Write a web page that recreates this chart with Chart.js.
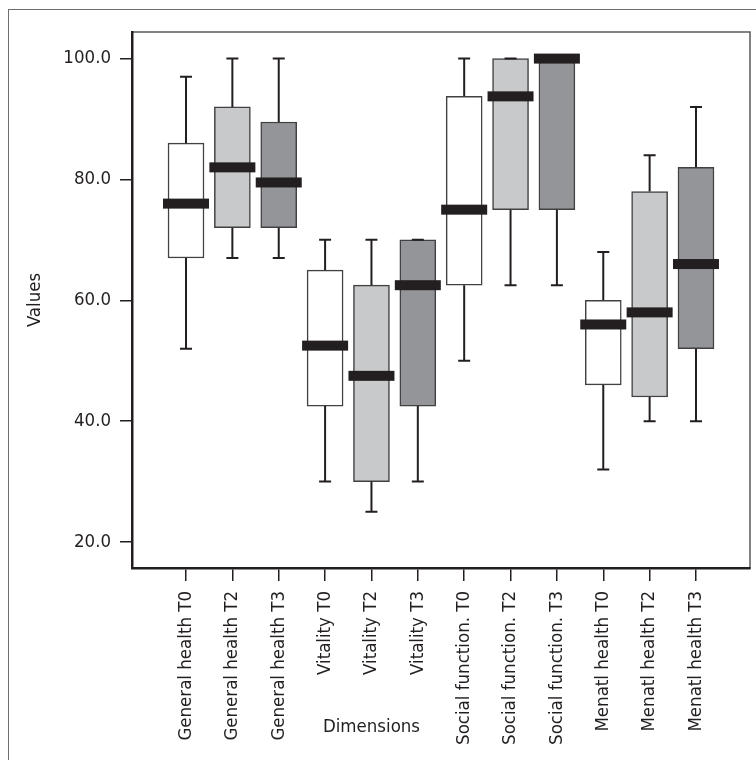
<!DOCTYPE html>
<html>
<head>
<meta charset="utf-8">
<title>Dimensions boxplot</title>
<script src="https://cdn.jsdelivr.net/npm/chart.js@4.4.1/dist/chart.umd.min.js"></script>
<style>
    html, body { margin: 0; padding: 0; background: #fff; overflow: hidden; }
    .wrap { position: relative; width: 756px; height: 760px; }
    .frame {
        position: absolute; left: 8px; top: 9px; width: 800px; height: 800px;
        border-left: 1.5px solid #6d6e70; border-top: 1.5px solid #6d6e70;
    }
    #chartBox { position: absolute; left: 0; top: 0; }
</style>
</head>
<body>
<div class="wrap">
    <div class="frame"></div>
    <canvas id="chartBox" width="756" height="760"></canvas>
</div>
<script>
// Dados
const categorias = [
    'General health T0', 'General health T2', 'General health T3',
    'Vitality T0', 'Vitality T2', 'Vitality T3',
    'Social function. T0', 'Social function. T2', 'Social function. T3',
    'Menatl health T0', 'Menatl health T2', 'Menatl health T3'
];
const minimos  = [52, 67, 67,   30, 25,   30,   50,    62.5, 62.5, 32, 40, 40];
const quartil1 = [67, 72, 72,   42.5, 30, 42.5, 62.5,  75,   75,   46, 44, 52];
const medianas = [76, 82, 79.5, 52.5, 47.5, 62.5, 75,  93.75, 100, 56, 58, 66];
const quartil3 = [86, 92, 89.5, 65, 62.5, 70,   93.75, 100,  100,  60, 78, 82];
const maximos  = [97, 100, 100, 70, 70,   70,   100,   100,  100,  68, 84, 92];
const yTicks = [20, 40, 60, 80, 100];

const corBranca = '#ffffff';
const corClara = '#c8c9cb';
const corEscura = '#939598';
const corTinta = '#231f20';
const coresCaixas = categorias.map((c, i) => [corBranca, corClara, corEscura][i % 3]);

const fonte = "'Liberation Sans Narrow', 'Arial Narrow', 'DejaVu Sans Condensed', sans-serif";
const tamFonte = 18.5;
Chart.defaults.color = corTinta;
Chart.defaults.font.family = fonte;

// Bigodes, medianas, moldura da área e título do eixo X
const boxExtras = {
    id: 'boxExtras',
    beforeDraw(chart) {
        const { ctx, chartArea: a } = chart;
        ctx.save();
        ctx.strokeStyle = '#58595b';
        ctx.lineWidth = 1.5;
        ctx.strokeRect(a.left, a.top, a.right - a.left, a.bottom - a.top);
        ctx.restore();
    },
    afterDatasetsDraw(chart) {
        const { ctx, scales: { x, y } } = chart;
        ctx.save();
        ctx.strokeStyle = corTinta;
        ctx.fillStyle = corTinta;
        ctx.lineWidth = 2;
        categorias.forEach((c, i) => {
            const px = x.getPixelForValue(i);
            const pMin = y.getPixelForValue(minimos[i]);
            const pQ1 = y.getPixelForValue(quartil1[i]);
            const pQ3 = y.getPixelForValue(quartil3[i]);
            const pMax = y.getPixelForValue(maximos[i]);
            ctx.beginPath();
            ctx.moveTo(px, pQ3); ctx.lineTo(px, pMax);
            ctx.moveTo(px - 6, pMax); ctx.lineTo(px + 6, pMax);
            ctx.moveTo(px, pQ1); ctx.lineTo(px, pMin);
            ctx.moveTo(px - 6, pMin); ctx.lineTo(px + 6, pMin);
            ctx.stroke();
            const pMed = y.getPixelForValue(medianas[i]);
            ctx.fillRect(px - 23, pMed - 5, 46, 10);
        });
        // "Dimensions" fica entre os rótulos, sob a quinta categoria
        ctx.font = tamFonte + 'px ' + fonte;
        ctx.textAlign = 'center';
        ctx.textBaseline = 'middle';
        ctx.fillText('Dimensions', x.getPixelForValue(4), chart.chartArea.bottom + 159);
        ctx.restore();
    }
};

new Chart(document.getElementById('chartBox'), {
    type: 'bar',
    data: {
        datasets: [{
            data: categorias.map((c, i) => ({ x: i, y: [quartil1[i], quartil3[i]] })),
            backgroundColor: coresCaixas,
            borderColor: '#414042',
            borderWidth: 1.5,
            borderSkipped: false,
            barThickness: 36
        }]
    },
    options: {
        responsive: false,
        animation: false,
        layout: { padding: { top: 32, right: 6, left: 0, bottom: 0 } },
        plugins: { legend: { display: false }, tooltip: { enabled: false } },
        scales: {
            x: {
                type: 'linear',
                offset: false,
                min: -1.165,
                max: 12.165,
                afterBuildTicks: s => { s.ticks = categorias.map((c, i) => ({ value: i })); },
                afterFit: s => { s.height = 192; },
                grid: { offset: false, drawOnChartArea: false, tickLength: 13, color: corTinta, lineWidth: 1.5 },
                border: { color: corTinta, width: 2.5 },
                ticks: {
                    autoSkip: false,
                    minRotation: 90,
                    maxRotation: 90,
                    padding: 10,
                    font: { size: tamFonte },
                    callback: v => categorias[v]
                }
            },
            y: {
                min: 15.7,
                max: 104.4,
                afterBuildTicks: s => { s.ticks = yTicks.map(v => ({ value: v })); },
                afterFit: s => { s.width = 132; },
                grid: { drawOnChartArea: false, tickLength: 12, color: corTinta, lineWidth: 1.5 },
                border: { color: corTinta, width: 2.5 },
                title: { display: true, text: 'Values', font: { size: tamFonte }, padding: { top: 24, bottom: 0 } },
                ticks: {
                    padding: 9,
                    font: { size: tamFonte },
                    callback: v => v.toFixed(1)
                }
            }
        }
    },
    plugins: [boxExtras]
});
</script>
</body>
</html>
